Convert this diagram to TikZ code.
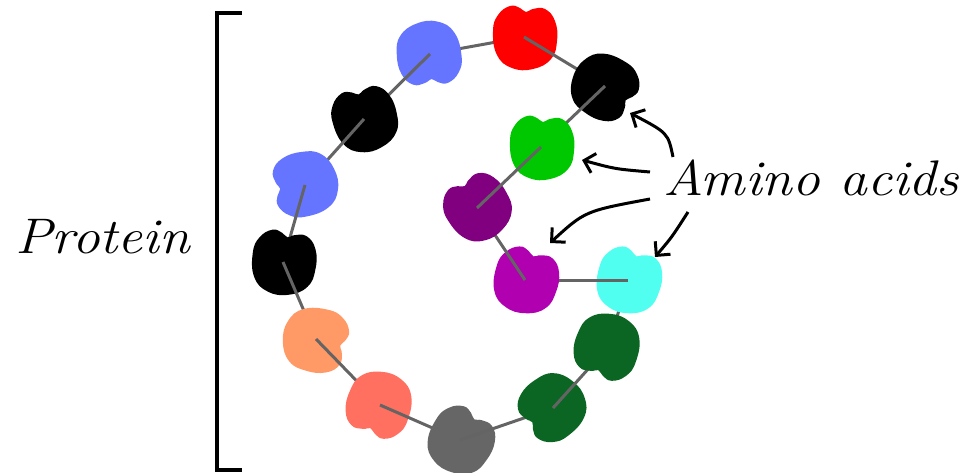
\documentclass[tikz,border=0pt]{standalone}
\usepackage{fontspec}
\usepackage{tikz}
\usetikzlibrary{arrows.meta}

\definecolor{bluish}{RGB}{102,117,255}
\definecolor{leafgreen}{RGB}{0,200,0}
\definecolor{plum}{RGB}{128,0,128}
\definecolor{orchid}{RGB}{176,0,176}
\definecolor{aqua}{RGB}{80,255,240}
\definecolor{forest}{RGB}{10,102,34}
\definecolor{ash}{RGB}{102,102,102}
\definecolor{coral}{RGB}{255,112,96}
\definecolor{apricot}{RGB}{255,153,102}
\definecolor{linkgray}{RGB}{100,100,100}

% one amino acid: #1 centre, #2 turn, #3 colour
\newcommand{\bean}[3]{%
  \fill[#3,shift={(#1)},rotate=#2] plot[smooth cycle,tension=0.75] coordinates
    {(-31,6) (-26,22) (-14,31) (-4,29) (2,25) (9,28) (21,28) (31,16)
     (33,-4) (27,-22) (9,-32) (-12,-31) (-27,-18)};}
% wide hand lettering
\newcommand{\wide}[1]{\scalebox{1.11}[1]{#1}}

\begin{document}
\begin{tikzpicture}[x=1pt,y=1pt,
  link/.style={draw=linkgray,line width=3pt},
  pointer/.style={line width=3pt,-{Straight Barb[length=10pt,width=20pt]}},
  handtext/.style={anchor=base west,inner sep=0pt,
    font=\fontsize{50}{60}\selectfont\itshape}]
\useasboundingbox (0,0) rectangle (965,-473);

\foreach \n/\x/\y in %
{blueA/430/54,blackA/364/119,blueB/305/185,blackB/283/262,orange/316/339,
 salmon/380/405,grayA/460/440,dgB/553/408,dgA/608/347,cyan/628/280,
 magenta/525/280,purple/477/208,red/524/37,blackC/605/86,green/541/147} {
   \coordinate (\n) at (\x,-\y);
}

% links hidden under both ends
\draw[link] (blueA) -- (red);
\draw[link] (cyan) -- (dgA);

% the chain
\bean{blueA}{188}{bluish}
\draw[link] (blueA) -- (blackA);
\bean{blackA}{17}{black}
\draw[link] (blackA) -- (blueB);
\bean{blueB}{103}{bluish}
\draw[link] (blueB) -- (blackB);
\bean{blackB}{-6}{black}
\draw[link] (blackB) -- (orange);
\bean{orange}{-101}{apricot}
\draw[link] (orange) -- (salmon);
\bean{salmon}{162}{coral}
\draw[link] (salmon) -- (grayA);
\bean{grayA}{-30}{ash}
\draw[link] (grayA) -- (dgB);
\bean{dgB}{129}{forest}
\draw[link] (dgB) -- (dgA);
\bean{dgA}{162}{forest}
\bean{cyan}{-15}{aqua}
\draw[link] (cyan) -- (magenta);
\bean{magenta}{-15}{orchid}
\draw[link] (magenta) -- (purple);
\bean{purple}{34}{plum}
\bean{red}{0}{red}
\draw[link] (red) -- (blackC);
\bean{blackC}{-120}{black}
\draw[link] (blackC) -- (green);
\bean{green}{0}{leafgreen}
\draw[link] (green) -- (purple);

% labels
\node[handtext] (protein) at (15,-253) {\wide{Protein}};
\node[handtext] (amino) at (663,-195) {\wide{Amino acids}};
\draw[line width=3.5pt] (242,-13) -- (217,-13) -- (217,-470) -- (242,-470);

% arrows from the label
\coordinate (fromA) at (673,-157);
\coordinate (fromB) at (650,-172);
\coordinate (fromC) at (650,-199);
\coordinate (fromD) at (688,-212);
\coordinate (toA) at (630,-113);
\coordinate (toB) at (582,-160);
\coordinate (toC) at (550,-243);
\coordinate (toD) at (655,-257);
\draw[pointer] (fromA) .. controls (668,-133) .. (toA);
\draw[pointer] (fromB) .. controls (615,-169) .. (toB);
\draw[pointer] (fromC) .. controls (585,-211) .. (toC);
\draw[pointer] (fromD) .. controls (672,-237) .. (toD);
\end{tikzpicture}
\end{document}
